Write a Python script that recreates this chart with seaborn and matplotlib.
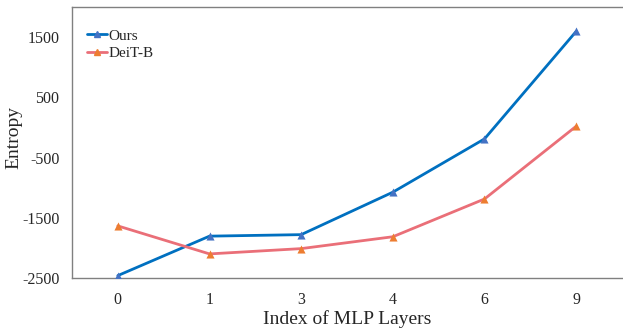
import matplotlib
matplotlib.use("Agg")
import matplotlib.pyplot as plt
import seaborn as sns
import pandas as pd
from matplotlib.lines import Line2D

layers = ["0", "1", "3", "4", "6", "9"]
ours = [-2460, -1805, -1780, -1075, -190, 1595]
deit = [-1635, -2100, -2012, -1815, -1188, 20]
y_ticks = [1500, 500, -500, -1500, -2500]

sns.set_theme(style="white")
plt.rcParams['font.family'] = ['Liberation Serif', 'DejaVu Serif']

df = pd.DataFrame({
    "layer": layers * 2,
    "entropy": ours + deit,
    "model": ["Ours"] * len(layers) + ["DeiT-B"] * len(layers),
})

fig = plt.figure(figsize=(6.23, 3.30), dpi=100)
ax = fig.add_axes([72 / 623, 1 - 278 / 330, 550 / 623, 271 / 330])

line_colors = {"Ours": "#0070C0", "DeiT-B": "#EA6F78"}
marker_colors = {"Ours": "#4472C4", "DeiT-B": "#ED7D31"}

sns.lineplot(data=df, x="layer", y="entropy", hue="model", palette=line_colors,
             sort=False, linewidth=2.0, legend=False, ax=ax)
for name, vals in [("Ours", ours), ("DeiT-B", deit)]:
    sns.scatterplot(x=layers, y=vals, marker="^", s=34, color=marker_colors[name],
                    edgecolor=marker_colors[name], linewidth=0, zorder=5, ax=ax)

ax.set_xlim(-0.5, len(layers) - 0.5)
ax.set_ylim(-2500, 2000)
ax.set_yticks(y_ticks)
ax.set_yticklabels([str(t) for t in y_ticks])
ax.tick_params(axis="both", labelsize=11.5, length=0)
ax.tick_params(axis="x", pad=10)
ax.tick_params(axis="y", pad=9)
ax.set_xlabel("Index of MLP Layers", fontsize=14)
ax.xaxis.set_label_coords(0.5, -0.118)
ax.set_ylabel("Entropy", fontsize=14)
ax.yaxis.set_label_coords(-0.09, 0.52)

for side in ["left", "bottom", "top"]:
    ax.spines[side].set_color("#808080")
    ax.spines[side].set_linewidth(1.0)
ax.spines["right"].set_visible(False)

handles = [Line2D([0], [0], color=line_colors[n], lw=2, marker="^", markersize=5,
                  markerfacecolor=marker_colors[n], markeredgecolor=marker_colors[n])
           for n in ["Ours", "DeiT-B"]]
ax.legend(handles, ["Ours", "DeiT-B"], loc="upper left", frameon=False, fontsize=11,
          handlelength=1.3, handletextpad=0.1, labelspacing=0.25,
          bbox_to_anchor=(0.0, 0.975), borderaxespad=0.6)

fig.savefig("out.png", dpi=100)
